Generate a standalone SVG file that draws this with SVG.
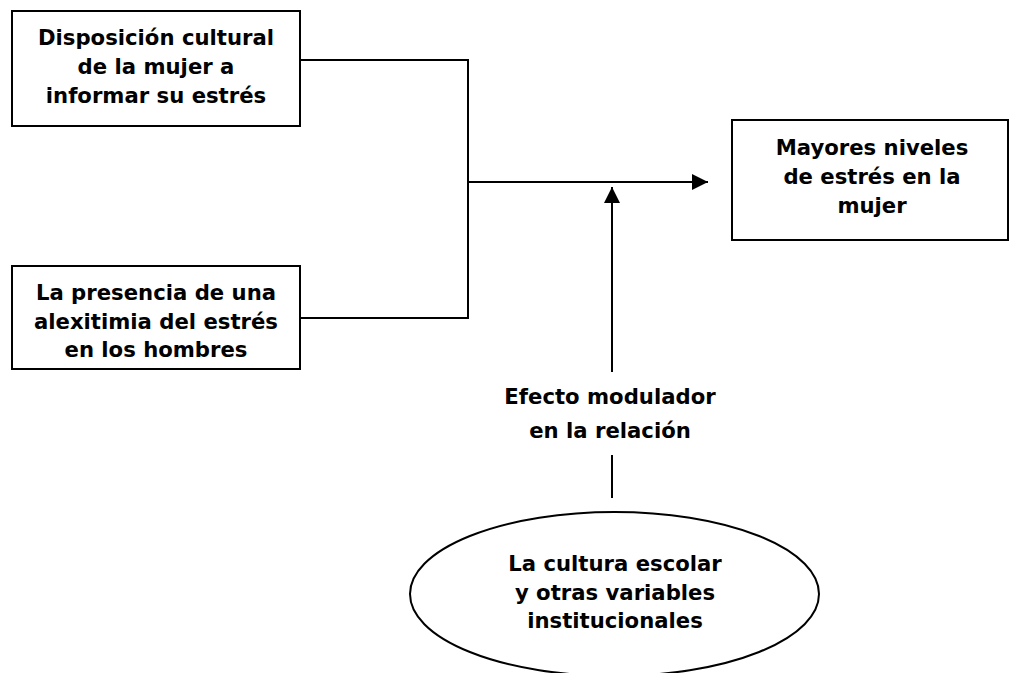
<svg xmlns="http://www.w3.org/2000/svg" width="1010" height="673" viewBox="0 0 1010 673">
  <style>
    .box { fill: #ffffff; stroke: #000000; stroke-width: 2; }
    .conn { fill: none; stroke: #000000; stroke-width: 2; }
    .t { font-family: "DejaVu Sans", Verdana, sans-serif; font-weight: bold; font-size: 21.2px; fill: #000000; text-anchor: middle; }
  </style>
  <defs>
    <marker id="arrow" viewBox="0 0 16 16" refX="16" refY="8" markerWidth="16" markerHeight="16" markerUnits="userSpaceOnUse" orient="auto">
      <path d="M0,0 L16,8 L0,16 Z" fill="#000000"/>
    </marker>
  </defs>
  <rect width="1010" height="673" fill="#ffffff"/>
  <g id="connectors">
    <polyline class="conn" points="300,60 468,60 468,318 300,318"/>
    <line class="conn" x1="468" y1="182" x2="708" y2="182" marker-end="url(#arrow)"/>
    <line class="conn" x1="612" y1="372" x2="612" y2="187" marker-end="url(#arrow)"/>
    <line class="conn" x1="612" y1="455" x2="612" y2="498"/>
  </g>
  <g id="node-disposicion">
    <rect class="box" x="12" y="11" width="288" height="115"/>
    <text class="t" x="156" y="45">Disposición cultural</text>
    <text class="t" x="156" y="74">de la mujer a</text>
    <text class="t" x="156" y="103">informar su estrés</text>
  </g>
  <g id="node-alexitimia">
    <rect class="box" x="12" y="266" width="288" height="103"/>
    <text class="t" x="156" y="300">La presencia de una</text>
    <text class="t" x="156" y="329">alexitimia del estrés</text>
    <text class="t" x="156" y="357">en los hombres</text>
  </g>
  <g id="node-mayores">
    <rect class="box" x="732" y="120" width="276" height="120"/>
    <text class="t" x="872" y="155">Mayores niveles</text>
    <text class="t" x="872" y="184">de estrés en la</text>
    <text class="t" x="872" y="213">mujer</text>
  </g>
  <g id="label-efecto">
    <text class="t" x="610" y="404">Efecto modulador</text>
    <text class="t" x="610" y="438">en la relación</text>
  </g>
  <g id="node-cultura">
    <ellipse class="box" cx="614.5" cy="594" rx="204.5" ry="82"/>
    <text class="t" x="615" y="571">La cultura escolar</text>
    <text class="t" x="615" y="600">y otras variables</text>
    <text class="t" x="615" y="628">institucionales</text>
  </g>
</svg>
